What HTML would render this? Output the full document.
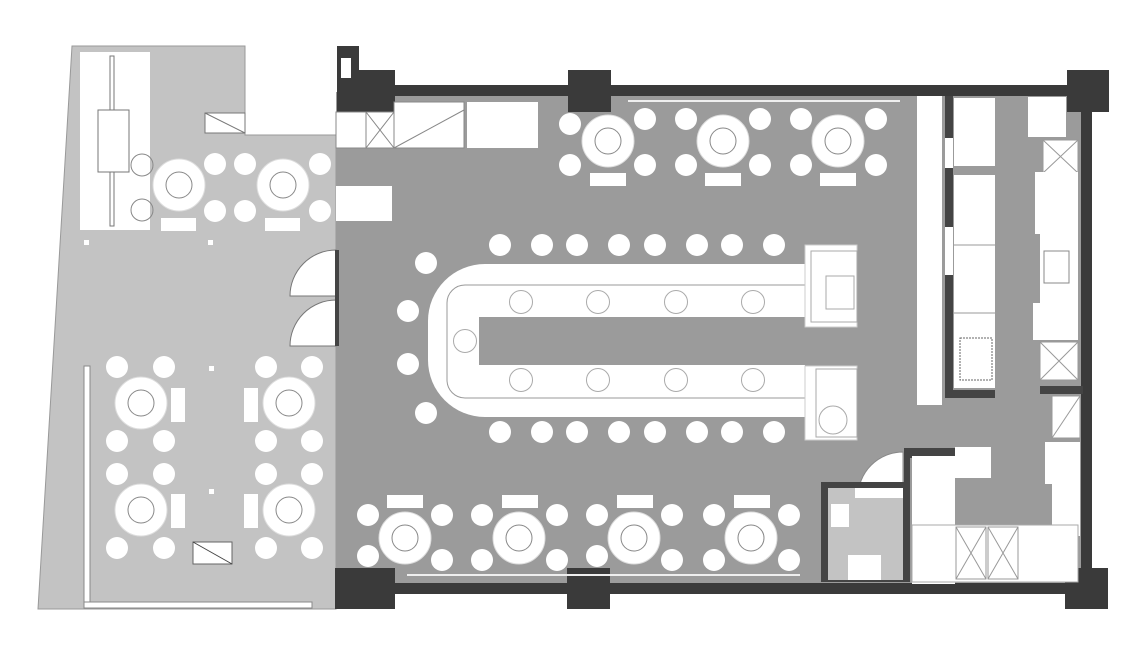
<!DOCTYPE html>
<html><head><meta charset="utf-8"><style>
html,body{margin:0;padding:0;background:#fff;}
svg{display:block;}
</style></head><body>
<svg width="1134" height="651" viewBox="0 0 1134 651" xmlns="http://www.w3.org/2000/svg">
<defs>
<g id="rt"><circle r="26" fill="#fff" stroke="#ddd"/><circle r="13" fill="#fff" stroke="#888"/></g>
<g id="ch"><circle r="11" fill="#fff"/></g>
<g id="st"><circle r="11.5" fill="none" stroke="#aaa"/></g>
</defs>
<rect width="1134" height="651" fill="#fff"/>
<polygon points="72,46 245,46 245,135 336,135 336,609 38,609" fill="#c3c3c3" stroke="#999"/>
<rect x="336" y="92" width="750" height="494" fill="#9b9b9b"/>
<rect x="80" y="52" width="70" height="178" fill="#fff"/>
<rect x="98" y="110" width="31" height="62" fill="#fff" stroke="#777"/>
<rect x="110" y="56" width="4" height="54" fill="#fff" stroke="#777"/>
<rect x="110" y="172" width="4" height="54" fill="#fff" stroke="#777"/>
<rect x="205" y="113" width="40" height="20" fill="#fff" stroke="#777"/>
<line x1="205" y1="113" x2="245" y2="133" stroke="#777"/>
<circle cx="142" cy="165" r="11" fill="none" stroke="#888"/>
<circle cx="142" cy="210" r="11" fill="none" stroke="#888"/>
<use href="#rt" x="179" y="185"/><use href="#rt" x="283" y="185"/>
<use href="#ch" x="215" y="164"/><use href="#ch" x="245" y="164"/><use href="#ch" x="215" y="211"/><use href="#ch" x="245" y="211"/>
<use href="#ch" x="320" y="164"/><use href="#ch" x="320" y="211"/>
<rect x="161" y="218" width="35" height="13" fill="#fff"/><rect x="265" y="218" width="35" height="13" fill="#fff"/>
<rect x="84" y="240" width="5" height="5" fill="#fff"/><rect x="208" y="240" width="5" height="5" fill="#fff"/>
<path d="M336,250 A46,46 0 0 0 290,296 L336,296 Z" fill="#fff" stroke="#777"/>
<path d="M336,300 A46,46 0 0 0 290,346 L336,346 Z" fill="#fff" stroke="#777"/>
<rect x="335" y="250" width="4" height="96" fill="#444"/>
<rect x="84" y="366" width="6" height="242" fill="#fff" stroke="#888"/>
<rect x="84" y="602" width="228" height="6" fill="#fff" stroke="#888"/>
<g>
<use href="#rt" x="141" y="403"/><use href="#rt" x="289" y="403"/><use href="#rt" x="141" y="510"/><use href="#rt" x="289" y="510"/>
<use href="#ch" x="117" y="367"/><use href="#ch" x="164" y="367"/><use href="#ch" x="117" y="441"/><use href="#ch" x="164" y="441"/>
<use href="#ch" x="117" y="474"/><use href="#ch" x="164" y="474"/><use href="#ch" x="117" y="548"/><use href="#ch" x="164" y="548"/>
<use href="#ch" x="266" y="367"/><use href="#ch" x="312" y="367"/><use href="#ch" x="266" y="441"/><use href="#ch" x="312" y="441"/>
<use href="#ch" x="266" y="474"/><use href="#ch" x="312" y="474"/><use href="#ch" x="266" y="548"/><use href="#ch" x="312" y="548"/>
<rect x="171" y="388" width="14" height="34" fill="#fff"/><rect x="244" y="388" width="14" height="34" fill="#fff"/>
<rect x="171" y="494" width="14" height="34" fill="#fff"/><rect x="244" y="494" width="14" height="34" fill="#fff"/>
<rect x="193" y="542" width="39" height="22" fill="#fff" stroke="#666"/><line x1="193" y1="542" x2="232" y2="564" stroke="#444"/>
<rect x="209" y="366" width="5" height="5" fill="#fff"/><rect x="209" y="489" width="5" height="5" fill="#fff"/>
</g>
<rect x="390" y="85" width="680" height="11" fill="#3a3a3a"/>
<rect x="390" y="583" width="680" height="11" fill="#3a3a3a"/>
<rect x="1081" y="100" width="11" height="475" fill="#3a3a3a"/>
<rect x="337" y="46" width="22" height="90" fill="#3a3a3a"/>
<rect x="352" y="70" width="43" height="42" fill="#3a3a3a"/>
<rect x="568" y="70" width="43" height="42" fill="#3a3a3a"/>
<rect x="1067" y="70" width="42" height="42" fill="#3a3a3a"/>
<rect x="335" y="568" width="60" height="41" fill="#3a3a3a"/>
<rect x="567" y="568" width="43" height="41" fill="#3a3a3a"/>
<rect x="1065" y="568" width="43" height="41" fill="#3a3a3a"/>
<rect x="341" y="58" width="10" height="20" fill="#fff"/>
<rect x="336" y="112" width="30" height="36" fill="#fff" stroke="#888"/>
<rect x="366" y="112" width="28" height="36" fill="#fff" stroke="#888"/><path d="M366,112 L394,148 M394,112 L366,148" stroke="#888"/>
<rect x="394" y="102" width="70" height="46" fill="#fff" stroke="#888"/><line x1="394" y1="148" x2="464" y2="110" stroke="#888"/>
<rect x="467" y="102" width="71" height="46" fill="#fff"/>
<rect x="336" y="186" width="56" height="35" fill="#fff"/>
<line x1="628" y1="101" x2="900" y2="101" stroke="#eee" stroke-width="2"/>
<g>
<use href="#rt" x="608" y="141"/><use href="#rt" x="723" y="141"/><use href="#rt" x="838" y="141"/>
<use href="#ch" x="570" y="124"/><use href="#ch" x="645" y="119"/><use href="#ch" x="570" y="165"/><use href="#ch" x="645" y="165"/>
<use href="#ch" x="686" y="119"/><use href="#ch" x="760" y="119"/><use href="#ch" x="686" y="165"/><use href="#ch" x="760" y="165"/>
<use href="#ch" x="801" y="119"/><use href="#ch" x="876" y="119"/><use href="#ch" x="801" y="165"/><use href="#ch" x="876" y="165"/>
<rect x="590" y="173" width="36" height="13" fill="#fff"/><rect x="705" y="173" width="36" height="13" fill="#fff"/><rect x="820" y="173" width="36" height="13" fill="#fff"/>
</g>
<g>
<use href="#rt" x="405" y="538"/><use href="#rt" x="519" y="538"/><use href="#rt" x="634" y="538"/><use href="#rt" x="751" y="538"/>
<use href="#ch" x="368" y="515"/><use href="#ch" x="442" y="515"/><use href="#ch" x="368" y="556"/><use href="#ch" x="442" y="560"/>
<use href="#ch" x="482" y="515"/><use href="#ch" x="557" y="515"/><use href="#ch" x="482" y="560"/><use href="#ch" x="557" y="560"/>
<use href="#ch" x="597" y="515"/><use href="#ch" x="672" y="515"/><use href="#ch" x="597" y="556"/><use href="#ch" x="672" y="560"/>
<use href="#ch" x="714" y="515"/><use href="#ch" x="789" y="515"/><use href="#ch" x="714" y="560"/><use href="#ch" x="789" y="560"/>
<rect x="387" y="495" width="36" height="13" fill="#fff"/><rect x="502" y="495" width="36" height="13" fill="#fff"/><rect x="617" y="495" width="36" height="13" fill="#fff"/><rect x="734" y="495" width="36" height="13" fill="#fff"/>
<line x1="407" y1="575" x2="800" y2="575" stroke="#eee" stroke-width="2"/>
</g>
<!-- bar -->
<path d="M805,264 L485,264 A57,57 0 0 0 428,321 L428,360 A57,57 0 0 0 485,417 L805,417 Z" fill="#fff"/>
<path d="M805,285 L465,285 A18,18 0 0 0 447,303 L447,380 A18,18 0 0 0 465,398 L805,398" fill="none" stroke="#999"/>
<rect x="479" y="317" width="326" height="48" fill="#9b9b9b"/>
<g>
<use href="#st" x="521" y="302"/><use href="#st" x="598" y="302"/><use href="#st" x="676" y="302"/><use href="#st" x="753" y="302"/>
<use href="#st" x="521" y="380"/><use href="#st" x="598" y="380"/><use href="#st" x="676" y="380"/><use href="#st" x="753" y="380"/>
<use href="#st" x="465" y="341"/>
</g>
<rect x="805" y="245" width="52" height="82" fill="#fff" stroke="#ccc"/><rect x="811" y="251" width="46" height="71" fill="none" stroke="#aaa"/><rect x="826" y="276" width="28" height="33" fill="none" stroke="#aaa"/>
<rect x="805" y="366" width="52" height="74" fill="#fff" stroke="#ccc"/><rect x="816" y="369" width="41" height="68" fill="none" stroke="#aaa"/><circle cx="833" cy="420" r="14" fill="none" stroke="#aaa"/>
<g>
<use href="#ch" x="500" y="245"/><use href="#ch" x="542" y="245"/><use href="#ch" x="577" y="245"/><use href="#ch" x="619" y="245"/><use href="#ch" x="655" y="245"/><use href="#ch" x="697" y="245"/><use href="#ch" x="732" y="245"/><use href="#ch" x="774" y="245"/>
<use href="#ch" x="500" y="432"/><use href="#ch" x="542" y="432"/><use href="#ch" x="577" y="432"/><use href="#ch" x="619" y="432"/><use href="#ch" x="655" y="432"/><use href="#ch" x="697" y="432"/><use href="#ch" x="732" y="432"/><use href="#ch" x="774" y="432"/>
<use href="#ch" x="426" y="263"/><use href="#ch" x="408" y="311"/><use href="#ch" x="408" y="364"/><use href="#ch" x="426" y="413"/>
</g>
<!-- kitchen -->
<rect x="917" y="96" width="25" height="309" fill="#fff"/>
<rect x="945" y="96" width="8" height="302" fill="#444"/>
<rect x="945" y="138" width="8" height="30" fill="#fff"/><rect x="945" y="227" width="8" height="48" fill="#fff"/>
<rect x="945" y="390" width="50" height="8" fill="#444"/>
<rect x="954" y="98" width="41" height="68" fill="#fff"/>
<rect x="954" y="175" width="41" height="213" fill="#fff"/>
<line x1="954" y1="245" x2="995" y2="245" stroke="#999"/><line x1="954" y1="313" x2="995" y2="313" stroke="#999"/>
<rect x="960" y="338" width="32" height="42" fill="none" stroke="#666" stroke-dasharray="2,1"/>
<rect x="1028" y="97" width="38" height="40" fill="#fff"/>
<rect x="1043" y="140" width="35" height="33" fill="#fff" stroke="#999"/><path d="M1043,140 L1078,173 M1078,140 L1043,173" stroke="#999"/>
<rect x="1035" y="172" width="43" height="62" fill="#fff"/>
<rect x="1040" y="234" width="38" height="69" fill="#fff"/><rect x="1044" y="251" width="25" height="32" fill="none" stroke="#888"/>
<rect x="1033" y="303" width="45" height="37" fill="#fff"/>
<rect x="1040" y="342" width="38" height="38" fill="#fff" stroke="#999"/><path d="M1040,342 L1078,380 M1078,342 L1040,380" stroke="#999"/>
<rect x="1040" y="386" width="43" height="8" fill="#444"/>
<rect x="1052" y="396" width="28" height="42" fill="#fff" stroke="#999"/><line x1="1052" y1="438" x2="1080" y2="396" stroke="#999"/>
<rect x="1045" y="442" width="35" height="42" fill="#fff"/>
<rect x="1052" y="484" width="28" height="52" fill="#fff"/>
<path d="M903,452 A45,45 0 0 0 858,497 L903,497 Z" fill="#fff" stroke="#888"/>
<rect x="821" y="482" width="84" height="100" fill="#444"/>
<rect x="828" y="488" width="75" height="92" fill="#c3c3c3"/>
<rect x="855" y="488" width="48" height="10" fill="#fff"/>
<rect x="831" y="504" width="18" height="23" fill="#fff"/>
<rect x="848" y="555" width="33" height="25" fill="#fff"/>
<rect x="904" y="448" width="6" height="134" fill="#444"/>
<rect x="904" y="448" width="51" height="10" fill="#444"/>
<rect x="912" y="456" width="43" height="128" fill="#fff"/>
<rect x="955" y="447" width="36" height="31" fill="#fff"/>
<rect x="912" y="525" width="166" height="57" fill="#fff" stroke="#aaa"/>
<rect x="956" y="527" width="30" height="52" fill="#fff" stroke="#999"/><path d="M956,527 L986,579 M986,527 L956,579" stroke="#999"/>
<rect x="988" y="527" width="30" height="52" fill="#fff" stroke="#999"/><path d="M988,527 L1018,579 M1018,527 L988,579" stroke="#999"/>
</svg>
</body></html>
